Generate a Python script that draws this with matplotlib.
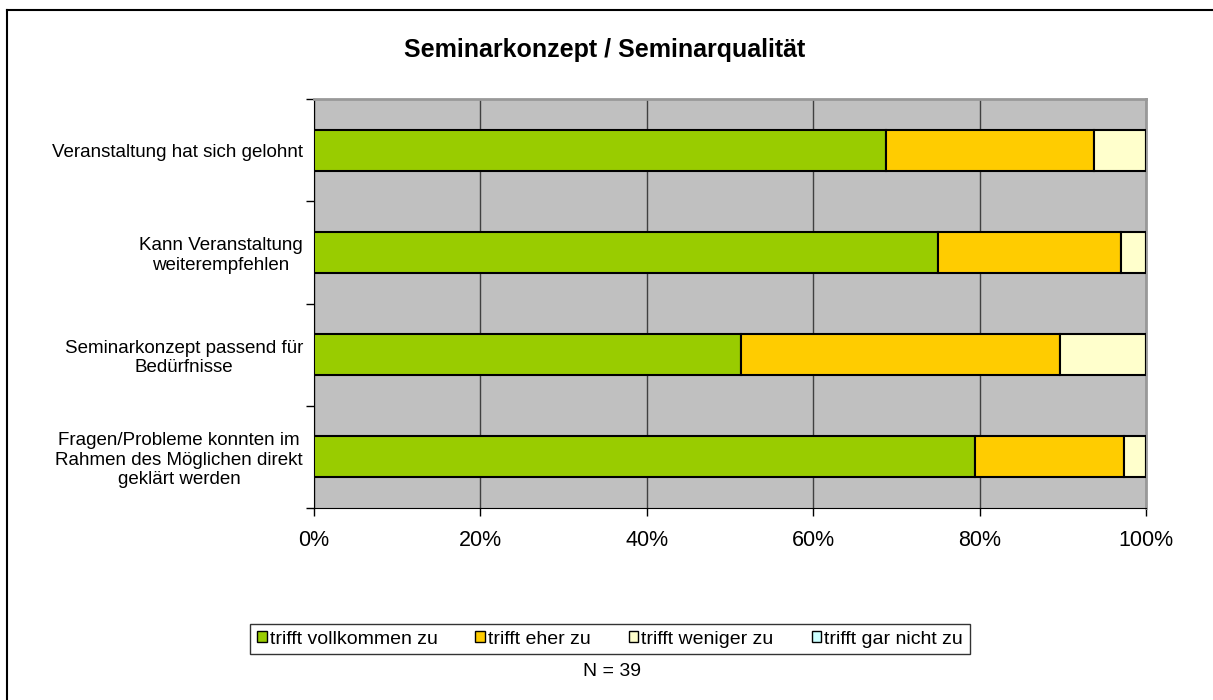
import numpy as np
import matplotlib
matplotlib.use("Agg")
import matplotlib.pyplot as plt
from matplotlib.patches import Patch
from matplotlib.lines import Line2D

plt.rcParams['font.family'] = ['Liberation Sans', 'DejaVu Sans']

# data (share of answers in %)
categories = [
    "Veranstaltung hat sich gelohnt",
    "Kann Veranstaltung\nweiterempfehlen",
    "Seminarkonzept passend für\nBedürfnisse",
    "Fragen/Probleme konnten im\nRahmen des Möglichen direkt\ngeklärt werden",
]
series_names = ["trifft vollkommen zu", "trifft eher zu",
                "trifft weniger zu", "trifft gar nicht zu"]
vollkommen = [68.75, 75.0, 51.3, 79.5]
eher = [25.0, 22.0, 38.4, 17.9]
weniger = [6.25, 3.0, 10.3, 2.6]
gar_nicht = [0.0, 0.0, 0.0, 0.0]
colors = ["#99CC00", "#FFCC00", "#FFFFCC", "#CCFFFF"]
x_ticks = [0, 20, 40, 60, 80, 100]
x_labels = ["0%", "20%", "40%", "60%", "80%", "100%"]

fig = plt.figure(figsize=(12.13, 7.0), dpi=100)
ax = fig.add_axes([314 / 1213, 1 - 508 / 700, 832 / 1213, 409 / 700])
ax.set_facecolor("#C0C0C0")

y = np.arange(len(categories))
left = np.zeros(len(categories))
for vals, col in zip([vollkommen, eher, weniger, gar_nicht], colors):
    vals = np.array(vals)
    ax.barh(y, vals, left=left, height=0.4, color=col,
            edgecolor="black", linewidth=1.5, zorder=3)
    left += vals

ax.set_xlim(0, 100)
ax.set_ylim(len(categories) - 0.5, -0.5)
ax.set_xticks(x_ticks)
ax.set_xticklabels(x_labels, fontsize=15.5)
ax.set_yticks(y)
ax.set_yticklabels(categories, fontsize=13.5, multialignment="center",
                   linespacing=1.2)
ax.tick_params(axis="y", length=0, pad=8)
ax.tick_params(axis="x", length=6, width=1, pad=10, direction="out")
# category boundary ticks on the left axis
ax.set_yticks(np.arange(-0.5, len(categories)), minor=True)
ax.tick_params(axis="y", which="minor", length=6, width=1, direction="out")
ax.grid(axis="x", color="#404040", linewidth=1, zorder=0)
for side in ["top", "right"]:
    ax.spines[side].set_color("#999999")
    ax.spines[side].set_linewidth(2)
ax.spines["left"].set_color("black")
ax.spines["bottom"].set_color("black")

fig.text(605 / 1213, 1 - 50 / 700, "Seminarkonzept / Seminarqualität",
         ha="center", va="center", fontsize=18, fontweight="bold")

handles = [Patch(facecolor=c, edgecolor="black", linewidth=1) for c in colors]
leg = fig.legend(handles, series_names, loc="center",
                 bbox_to_anchor=(610 / 1213, 1 - 639 / 700), ncol=4,
                 fontsize=14, frameon=True, fancybox=False,
                 handlelength=0.5, handleheight=0.5, handletextpad=0.15,
                 columnspacing=1.95, borderpad=0.35)
leg.get_frame().set_edgecolor("black")
leg.get_frame().set_linewidth(1)

fig.text(612 / 1213, 1 - 672 / 700, "N = 39", ha="center", va="center",
         fontsize=14)

# outer chart frame (left and top edges visible)
fig.add_artist(Line2D([7 / 1213, 7 / 1213], [0, 1 - 10 / 700],
                      transform=fig.transFigure, color="black", linewidth=1.5))
fig.add_artist(Line2D([7 / 1213, 1], [1 - 10 / 700, 1 - 10 / 700],
                      transform=fig.transFigure, color="black", linewidth=1.5))

fig.savefig("out.png", dpi=100)
